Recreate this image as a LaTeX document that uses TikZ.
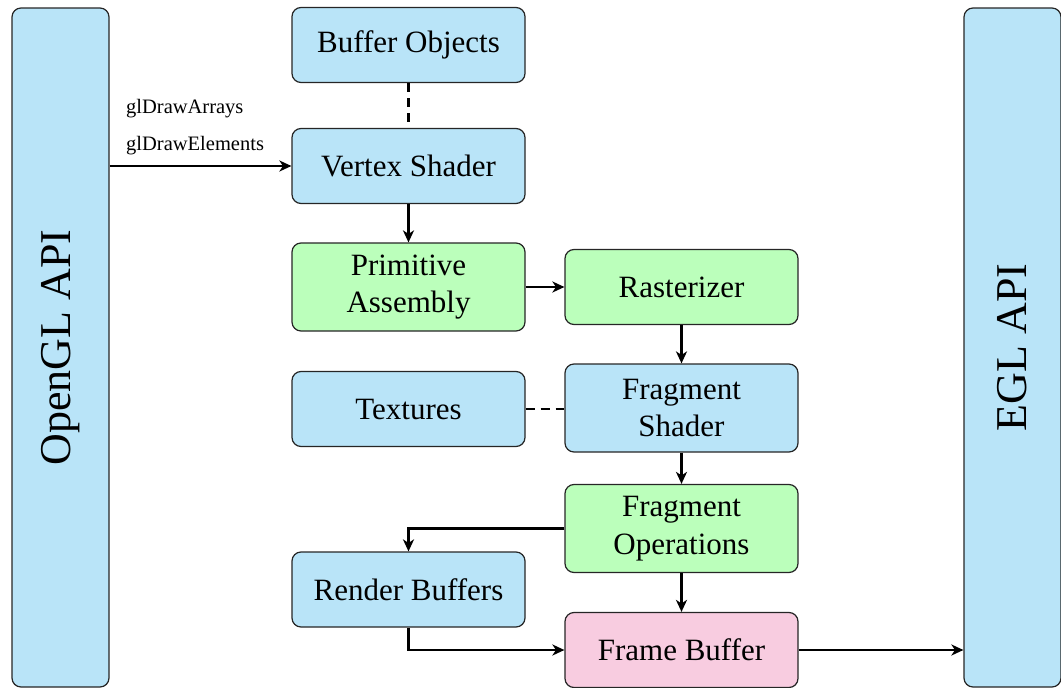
\documentclass[tikz,border=0pt]{standalone}
\usepackage{fontspec}
\setmainfont{Liberation Serif}
\usetikzlibrary{arrows.meta}
\definecolor{boxblue}{RGB}{185,228,248}
\definecolor{boxgreen}{RGB}{187,255,187}
\definecolor{boxpink}{RGB}{248,204,224}
\begin{document}
\begin{tikzpicture}[x=1pt,y=-1pt,
  stage/.style={draw=black!85, line width=1.2pt, rounded corners=9pt,
    minimum width=233pt, minimum height=75pt, inner sep=4pt, align=center,
    font=\fontsize{31}{37.5}\selectfont},
  twoline/.style={minimum height=88pt},
  bluebox/.style={stage, fill=boxblue},
  greenbox/.style={stage, fill=boxgreen},
  pinkbox/.style={stage, fill=boxpink},
  panel/.style={draw=black!85, line width=1.2pt, rounded corners=9pt, fill=boxblue,
    minimum width=97pt, minimum height=679pt, inner sep=0pt},
  paneltext/.style={rotate=90, font=\fontsize{44}{52}\selectfont, inner sep=0pt},
  calltext/.style={anchor=base west, font=\fontsize{20.5}{24}\selectfont, inner sep=0pt},
  arr/.style={line width=2.1pt, -{Stealth[length=12pt,width=11pt,inset=3.5pt]}},
  link/.style={line width=2.1pt, dash pattern=on 9pt off 6pt}]
\useasboundingbox (0,0) rectangle (1061,688);

% API panels on both sides
\node[panel] (ogl) at (60.5,347.5) {};
\node[paneltext] (ogltext) at (ogl.center) {OpenGL API};
\node[panel] (egl) at (1012.5,347.5) {};
\node[paneltext] (egltext) at (egl.center) {EGL API};

% pipeline stages
\node[bluebox] (bo) at (408.5,45) {Buffer Objects};
\node[bluebox] (vs) at (408.5,166) {Vertex Shader};
\node[greenbox, twoline] (pa) at (408.5,287) {Primitive\\Assembly};
\node[greenbox] (ra) at (681.5,287) {Rasterizer};
\node[bluebox] (tx) at (408.5,409) {Textures};
\node[bluebox, twoline] (fs) at (681.5,408) {Fragment\\Shader};
\node[greenbox, twoline] (fo) at (681.5,528.5) {Fragment\\Operations};
\node[bluebox] (rb) at (408.5,589.5) {Render Buffers};
\node[pinkbox] (fb) at (681.5,650) {Frame Buffer};

% draw calls
\node[calltext] (cArrays) at (126,113) {glDrawArrays};
\node[calltext] (cElements) at (126,150) {glDrawElements};

% connections
\draw[link] (bo.south) -- (vs.north);
\draw[arr] (vs.west -| ogl.east) -- (vs.west);
\draw[arr] (vs.south) -- (pa.north);
\draw[arr] (pa.east) -- (pa.east -| ra.west);
\draw[arr] (ra.south) -- (fs.north);
\draw[link] (tx.east) -- (tx.east -| fs.west);
\draw[arr] (fs.south) -- (fo.north);
\draw[arr] (fo.west) -| (rb.north);
\draw[arr] (fo.south) -- (fb.north);
\draw[arr] (rb.south) |- (fb.west);
\draw[arr] (fb.east) -- (fb.east -| egl.west);
\end{tikzpicture}
\end{document}
